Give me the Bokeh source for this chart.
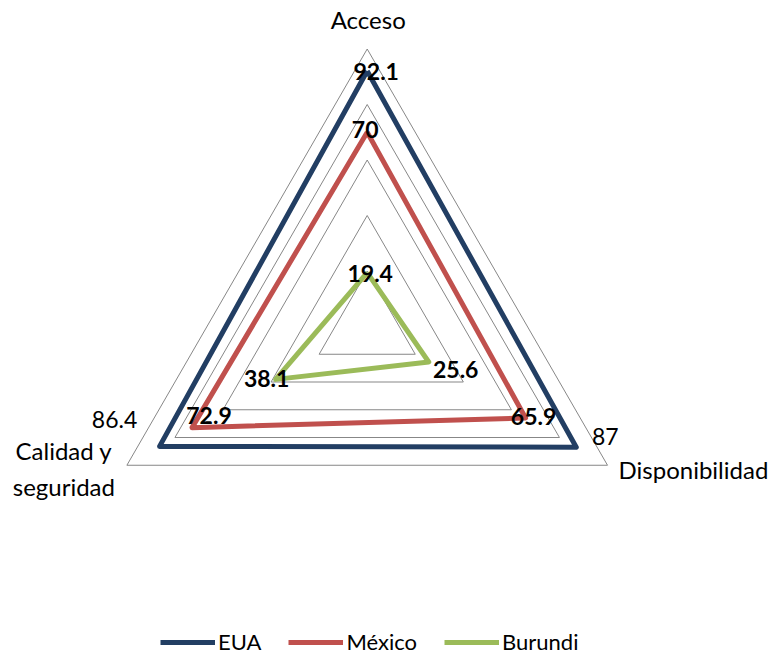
import numpy as np
from bokeh.plotting import figure
from bokeh.models import Range1d, ColumnDataSource, Legend, LegendItem
from bokeh.core.properties import value
from bokeh.embed import file_html
from bokeh.resources import INLINE

# Radar axes (clockwise from the top)
categories = ["Acceso", "Disponibilidad", "Calidad y\nseguridad"]

# Series values per axis
series_names = ["EUA", "México", "Burundi"]
eua = [92.1, 87.0, 86.4]
mexico = [70.0, 65.9, 72.9]
burundi = [19.4, 25.6, 38.1]

# Value labels as printed
eua_labels = ["92.1", "87", "86.4"]
mexico_labels = ["70", "65.9", "72.9"]
burundi_labels = ["19.4", "25.6", "38.1"]

# Concentric grid levels
grid_levels = [20, 40, 60, 80, 100]

colors = ["#223E63", "#C0504D", "#9BBB59"]
FONT = "Lato"

W, H = 774, 655
PX = 2.775            # pixels per value unit
CX, CY = 366.7, 326.0  # radar centre in page pixels (from top-left)

angles = np.deg2rad([90, -30, 210])


def polar(vals):
    v = np.asarray(vals, dtype=float)
    return v * np.cos(angles), v * np.sin(angles)


p = figure(width=W, height=H, output_backend="svg", toolbar_location=None,
           x_range=Range1d(-CX / PX, (W - CX) / PX),
           y_range=Range1d(-(H - CY) / PX, CY / PX),
           min_border=0, outline_line_color=None)
p.axis.visible = False
p.grid.visible = False
p.background_fill_color = "white"
p.border_fill_color = "white"

# grid triangles
gx, gy = [], []
for lv in grid_levels:
    x, y = polar([lv] * 3)
    gx.append(list(x) + [x[0]])
    gy.append(list(y) + [y[0]])
p.multi_line(gx, gy, line_color="#878787", line_width=1)

# series outlines
renderers = []
for vals, col in zip([eua, mexico, burundi], colors):
    x, y = polar(vals)
    r = p.line(list(x) + [x[0]], list(y) + [y[0]], line_color=col,
               line_width=5, line_join="round")
    renderers.append(r)

# value labels (offsets in screen pixels, style per label)
lab_vals = eua + mexico + burundi
lab_text = eua_labels + mexico_labels + burundi_labels
lab_dx = [9, 29, -45, -2, 8, 17, 3, 27, -9]
lab_dy = [1, -11, -27, -3, -1, -12, 1, 7, -1]
lab_style = ["bold", "normal", "normal", "bold", "bold", "bold", "bold", "bold", "bold"]
lx, ly = [], []
for k in range(3):
    x, y = polar(lab_vals[3 * k:3 * k + 3])
    lx += list(x)
    ly += list(y)
src = ColumnDataSource(dict(x=lx, y=ly, text=lab_text, dx=lab_dx, dy=lab_dy,
                            style=lab_style))
p.text(x="x", y="y", text="text", x_offset="dx", y_offset="dy",
       text_font_style="style", source=src, text_font=value(FONT),
       text_font_size="23px", text_color="black", text_align="center",
       text_baseline="middle")

# axis captions at the outer ring
cx_, cy_ = polar([100] * 3)
cat_src = ColumnDataSource(dict(x=list(cx_), y=list(cy_), text=categories,
                                dx=[1, 11, -63], dy=[-30, 4, 3],
                                align=["center", "left", "center"]))
p.text(x="x", y="y", text="text", x_offset="dx", y_offset="dy",
       text_align="align", source=cat_src, text_font=value(FONT),
       text_font_size="24px", text_color="black", text_baseline="middle",
       text_line_height=1.23)

legend = Legend(items=[LegendItem(label=n, renderers=[r])
                       for n, r in zip(series_names, renderers)],
                orientation="horizontal", location=(160, 0),
                glyph_width=55, glyph_height=20, label_height=20,
                label_standoff=3, spacing=27, padding=0, margin=0,
                border_line_alpha=0, background_fill_alpha=0,
                label_text_font=FONT, label_text_font_size="22px",
                label_text_color="black")
p.add_layout(legend)

open("out.html", "w").write(file_html(p, INLINE))
